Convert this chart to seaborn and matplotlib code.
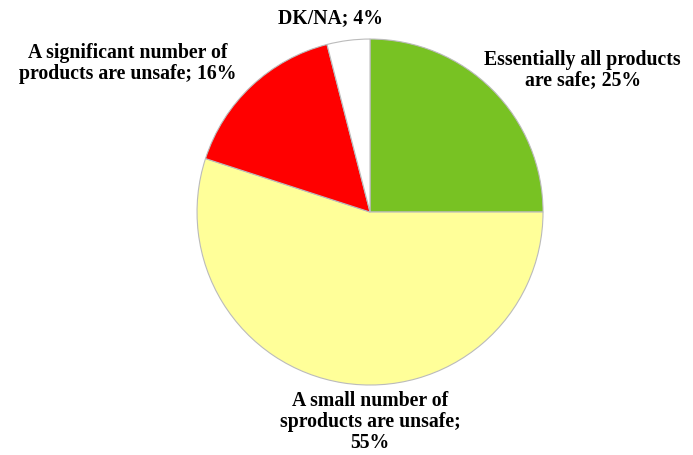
import numpy as np
import pandas as pd
import seaborn as sns
import matplotlib.pyplot as plt

# Data
categories = ["Essentially all products are safe", "A small number of sproducts are unsafe",
              "A significant number of products are unsafe", "DK/NA"]
shares = [25, 55, 16, 4]
label_texts = ["Essentially all products\nare safe; 25%",
               "A small number of\nsproducts are unsafe;\n55%",
               "A significant number of\nproducts are unsafe; 16%",
               "DK/NA; 4%"]
colors = ["#78C223", "#FFFF99", "#FF0000", "#FFFFFF"]

sns.set_theme(style="white")
plt.rcParams['font.family'] = ['Liberation Serif', 'DejaVu Serif']

fig = plt.figure(figsize=(6.93, 4.55), dpi=100)
ax = fig.add_axes([0.2843, 0.1538, 0.4993, 0.7604])

wedges, texts = ax.pie(shares, colors=colors, startangle=90, counterclock=False,
                       labels=label_texts, labeldistance=1.2,
                       wedgeprops=dict(edgecolor="#BBBBBB", linewidth=0.8),
                       textprops=dict(fontsize=14.2, fontweight='bold', color='black',
                                      ha='center', va='center', linespacing=1.05))

# label placement (like Excel's best-fit)
label_pos = [(1.23, 0.82), (0.0, -1.215), (-1.40, 0.86), (-0.23, 1.12)]
for t, p in zip(texts, label_pos):
    t.set_position(p)
    t.set_ha('center')
    t.set_clip_on(False)

ax.set_xlim(-1, 1)
ax.set_ylim(-1, 1)
ax.set_aspect('equal')
ax.axis('off')

fig.savefig("out.png", dpi=100)
